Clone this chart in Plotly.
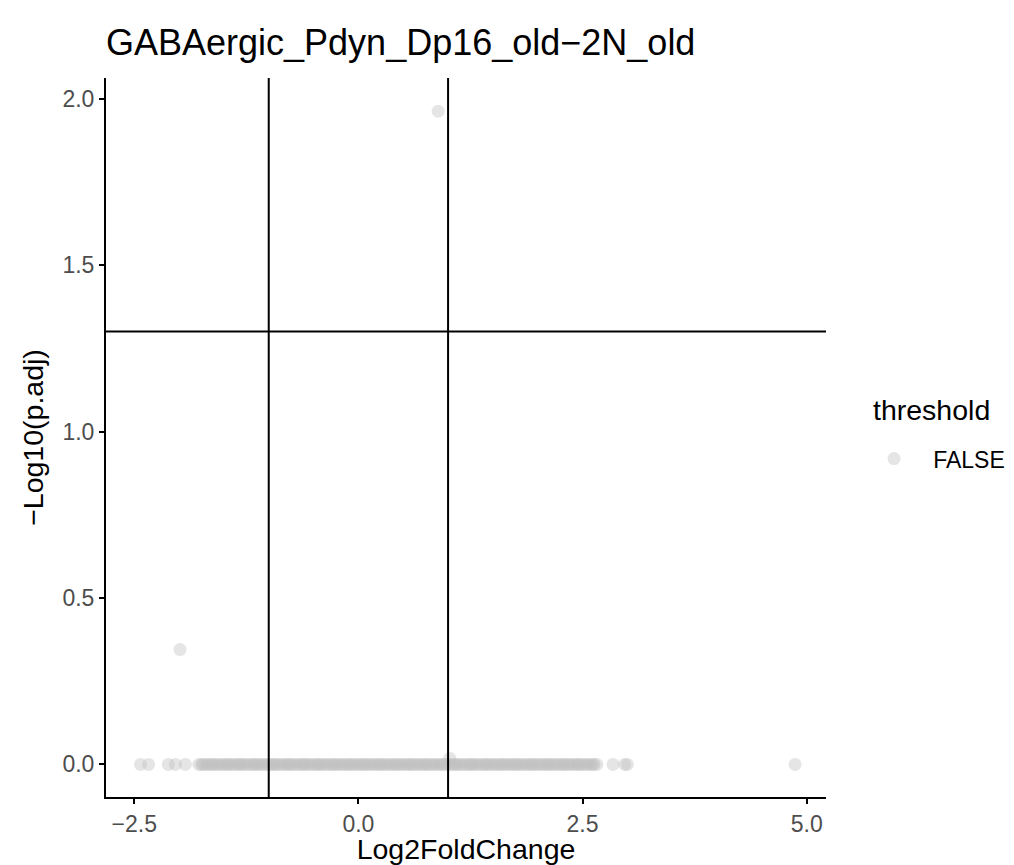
import plotly.graph_objects as go

# Dense band of non-significant genes (Log2FoldChange, -log10 p.adj ~ 0)
band_x = [-1.78, -1.75, -1.73, -1.70, -1.67, -1.64, -1.62, -1.59, -1.56, -1.53,
          -1.50, -1.47, -1.45, -1.42, -1.39, -1.36, -1.33, -1.31, -1.28, -1.25,
          -1.22, -1.19, -1.16, -1.14, -1.11, -1.08, -1.05, -1.02, -0.99, -0.96,
          -0.94, -0.91, -0.88, -0.85, -0.82, -0.79, -0.77, -0.74, -0.71, -0.68,
          -0.65, -0.62, -0.60, -0.57, -0.54, -0.51, -0.48, -0.45, -0.43, -0.40,
          -0.37, -0.34, -0.31, -0.28, -0.26, -0.23, -0.20, -0.17, -0.14, -0.11,
          -0.09, -0.06, -0.03, 0.00, 0.03, 0.06, 0.08, 0.11, 0.14, 0.17,
          0.20, 0.23, 0.25, 0.28, 0.31, 0.34, 0.37, 0.40, 0.42, 0.45,
          0.48, 0.51, 0.54, 0.57, 0.59, 0.62, 0.65, 0.68, 0.71, 0.74,
          0.76, 0.79, 0.82, 0.85, 0.88, 0.91, 0.93, 0.96, 0.99, 1.02,
          1.05, 1.08, 1.10, 1.13, 1.16, 1.19, 1.22, 1.25, 1.27, 1.30,
          1.33, 1.36, 1.39, 1.42, 1.44, 1.47, 1.50, 1.53, 1.56, 1.59,
          1.61, 1.64, 1.67, 1.70, 1.73, 1.76, 1.78, 1.81, 1.84, 1.87,
          1.90, 1.93, 1.95, 1.98, 2.01, 2.04, 2.07, 2.10, 2.12, 2.15,
          2.18, 2.21, 2.24, 2.27, 2.29, 2.32, 2.35, 2.38, 2.41, 2.44,
          2.46, 2.49, 2.52, 2.55, 2.58, 2.61, 2.63]
band_y = [0.0] * len(band_x)

# Isolated genes
iso_x = [-2.43, -2.34, -2.12, -2.04, -1.93, -1.99, 0.89, 1.02, 2.66, 2.84, 2.97, 3.00, 4.87]
iso_y = [0.0, 0.0, 0.0, 0.0, 0.0, 0.345, 1.963, 0.018, 0.0, 0.0, 0.0, 0.0, 0.0]

x_ticks = [-2.5, 0.0, 2.5, 5.0]
x_tick_labels = ["\u22122.5", "0.0", "2.5", "5.0"]
y_ticks = [0.0, 0.5, 1.0, 1.5, 2.0]
y_tick_labels = ["0.0", "0.5", "1.0", "1.5", "2.0"]

fc_cutoffs = [-1.0, 1.0]
p_cutoff = 1.30103

point_color = "rgba(190,190,190,0.4)"
font = "Liberation Sans, Arial, sans-serif"

W, H = 1006, 857

fig = go.Figure()
fig.add_trace(go.Scatter(
    x=band_x, y=band_y, mode="markers", name="FALSE", showlegend=False,
    marker=dict(size=13, color=point_color, line=dict(width=0)),
))
fig.add_trace(go.Scatter(
    x=iso_x, y=iso_y, mode="markers", name="\u00a0\u00a0\u00a0FALSE", showlegend=True,
    marker=dict(size=13, color=point_color, line=dict(width=0)),
))

for v in fc_cutoffs:
    fig.add_vline(x=v, line=dict(color="black", width=2))
fig.add_hline(y=p_cutoff, line=dict(color="black", width=2))

# legend title
fig.add_annotation(text="threshold", xref="paper", yref="paper",
                   x=1.0625, y=0.538, xanchor="left", yanchor="middle",
                   showarrow=False, font=dict(size=28.5, color="black", family=font))

fig.update_layout(
    width=W, height=H,
    margin=dict(l=98, r=188, t=70, b=68, autoexpand=False),
    paper_bgcolor="white", plot_bgcolor="white",
    font=dict(family=font, color="black"),
    title=dict(text="GABAergic_Pdyn_Dp16_old\u22122N_old",
               x=98 / W, xanchor="left", xref="container",
               y=1 - 34 / H, yanchor="middle", yref="container",
               font=dict(size=36, color="black", family=font)),
    legend=dict(font=dict(size=23, color="black"),
                x=1.0667, xanchor="left", y=0.5005, yanchor="top",
                bgcolor="rgba(0,0,0,0)", itemsizing="trace"),
    xaxis=dict(range=[-2.815, 5.215], showgrid=False, zeroline=False,
               tickvals=x_ticks, ticktext=x_tick_labels,
               ticks="outside", ticklen=5, tickwidth=2, tickcolor="black",
               showline=True, linecolor="black", linewidth=2,
               tickfont=dict(size=23, color="#4D4D4D"), automargin=False,
               title=dict(text="Log2FoldChange", font=dict(size=28.5, color="black"), standoff=0)),
    yaxis=dict(range=[-0.098, 2.063], showgrid=False, zeroline=False,
               tickvals=y_ticks, ticktext=y_tick_labels,
               ticks="outside", ticklen=5, tickwidth=2, tickcolor="black",
               showline=True, linecolor="black", linewidth=2,
               tickfont=dict(size=23, color="#4D4D4D"), automargin=False,
               title=dict(text="\u2212Log10(p.adj)", font=dict(size=28.5, color="black"), standoff=10)),
)

fig.write_html("out.html")
